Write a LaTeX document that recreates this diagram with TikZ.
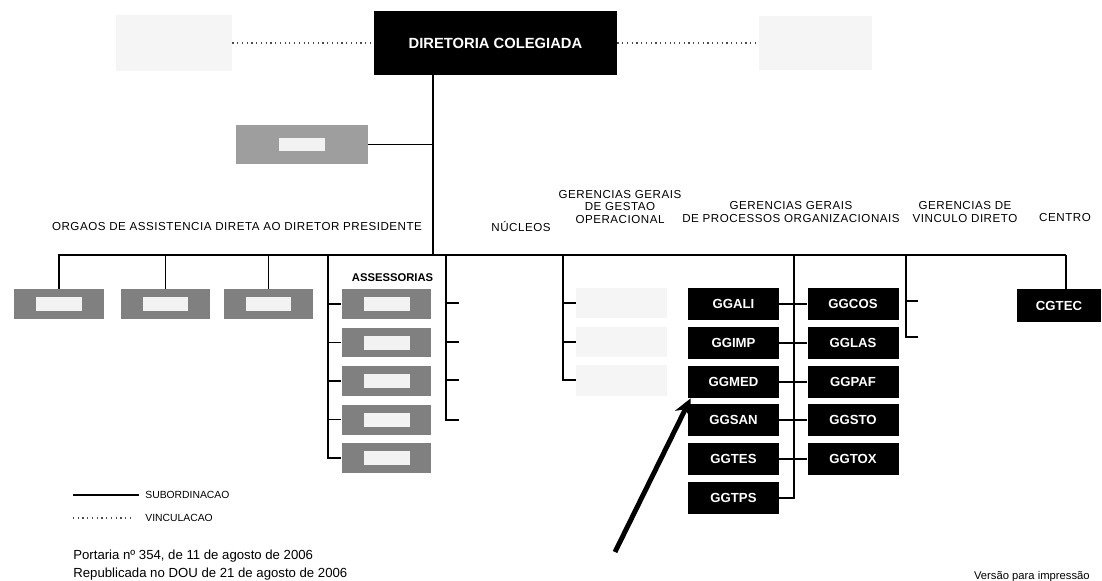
\documentclass[tikz,border=0pt]{standalone}
\usepackage{fontspec}
\setmainfont{Liberation Sans}
\newfontfamily\rotfont[LetterSpace=4.5]{Liberation Sans}
\usetikzlibrary{arrows.meta}

\begin{document}
\begin{tikzpicture}[x=0.02cm, y=-0.02cm,
    liga/.style={line width=0.8pt},
    vinc/.style={line width=0.7pt, dotted, gray!60!black},
    caixa/.style={fill=black, text=white, font=\bfseries\fontsize{7.5}{8}\selectfont,
      minimum width=1.82cm, minimum height=0.64cm, inner sep=0pt},
    cinza/.style={fill=black!50, minimum width=1.8cm, minimum height=0.6cm, inner sep=0pt,
      path picture={\fill[gray!10] ([xshift=-0.46cm,yshift=-0.14cm]path picture bounding box.center)
        rectangle ([xshift=0.46cm,yshift=0.14cm]path picture bounding box.center);}},
    palido/.style={fill=gray!8, inner sep=0pt},
    rotulo/.style={font=\rotfont\fontsize{6.6}{6.9}\selectfont, align=center, inner sep=0pt}]

      % Fundo
      \fill[white] (0,0) rectangle (1102,581);
      \useasboundingbox (0,0) rectangle (1102,581);

      % Diretoria
      \node[caixa, minimum width=4.86cm, minimum height=1.28cm,
        font=\bfseries\fontsize{8.4}{9}\selectfont] (dc) at (495.5,43) {DIRETORIA COLEGIADA};
      \node[palido, minimum width=2.32cm, minimum height=1.12cm] (conselho) at (174,43) {};
      \node[palido, minimum width=2.26cm, minimum height=1.08cm] (camaras) at (815.5,43) {};
      \draw[vinc] (conselho.east) -- (conselho.east -| dc.west);
      \draw[vinc] (dc.east |- camaras.west) -- (camaras.west);

      % Tronco
      \coordinate (tronco) at (433,255);
      \draw[liga] (dc.south -| tronco) -- (tronco);
      \node[cinza, fill=black!38, minimum width=2.64cm, minimum height=0.78cm] (gabinete) at (302,144.5) {};
      \draw[liga] (gabinete.east) -- (gabinete.east -| tronco);

      % Barra
      \coordinate (barE) at (58,255);
      \coordinate (barD) at (1066,255);
      \draw[liga] (barE) -- (barD);

      % Titulos
      \node[rotulo] (orgaos) at (237,227) {ORGAOS DE ASSISTENCIA DIRETA AO DIRETOR PRESIDENTE};
      \node[rotulo] (nucleos) at (521,227) {NÚCLEOS};
      \node[rotulo] (gggo) at (620,207) {GERENCIAS GERAIS\\DE GESTAO\\OPERACIONAL};
      \node[rotulo] (ggpo) at (791,212) {GERENCIAS GERAIS\\DE PROCESSOS ORGANIZACIONAIS};
      \node[rotulo] (gvd) at (965,212) {GERENCIAS DE\\VINCULO DIRETO};
      \node[rotulo] (centro) at (1065,218) {CENTRO};

      % Orgaos
      \node[cinza] (orgao1) at (59,304) {};
      \node[cinza] (orgao2) at (165.5,304) {};
      \node[cinza] (orgao3) at (268.5,304) {};
      \draw[liga] (orgao1.north |- barE) -- (orgao1.north);
      \draw[liga] (orgao2.north |- barE) -- (orgao2.north);
      \draw[liga] (orgao3.north |- barE) -- (orgao3.north);

      % Assessorias
      \node[font=\bfseries\fontsize{6.4}{7}\selectfont, inner sep=0pt] (assessorias) at (392.5,277.5) {ASSESSORIAS};
      \node[cinza] (asse1) at (386.5,304) {};
      \node[cinza] (asse2) at (386.5,342.5) {};
      \node[cinza] (asse3) at (386.5,381) {};
      \node[cinza] (asse4) at (386.5,419.5) {};
      \node[cinza] (asse5) at (386.5,458) {};
      \coordinate (asseE) at (328,255);
      \draw[liga] (asseE) |- (asse5.west);
      \draw[liga] (asse1.west -| asseE) -- (asse1.west);
      \draw[liga] (asse2.west -| asseE) -- (asse2.west);
      \draw[liga] (asse3.west -| asseE) -- (asse3.west);
      \draw[liga] (asse4.west -| asseE) -- (asse4.west);

      % Nucleos
      \coordinate (nucE) at (446,255);
      \coordinate (nuc1) at (459,303);
      \coordinate (nuc2) at (459,342);
      \coordinate (nuc3) at (459,380);
      \coordinate (nuc4) at (459,420);
      \draw[liga] (nucE) |- (nuc4);
      \draw[liga] (nuc1 -| nucE) -- (nuc1);
      \draw[liga] (nuc2 -| nucE) -- (nuc2);
      \draw[liga] (nuc3 -| nucE) -- (nuc3);

      % Gestao operacional
      \coordinate (gggoE) at (563,255);
      \node[palido, minimum width=1.82cm, minimum height=0.62cm] (ggo1) at (621.5,303) {};
      \node[palido, minimum width=1.82cm, minimum height=0.62cm] (ggo2) at (621.5,342) {};
      \node[palido, minimum width=1.82cm, minimum height=0.62cm] (ggo3) at (621.5,380) {};
      \draw[liga] (gggoE) |- (ggo3.west);
      \draw[liga] (ggo1.west -| gggoE) -- (ggo1.west);
      \draw[liga] (ggo2.west -| gggoE) -- (ggo2.west);

      % Processos organizacionais
      \coordinate (ggpoE) at (794,255);
      \node[caixa] (ggali) at (733.5,304) {GGALI};
      \node[caixa] (ggimp) at (733.5,343) {GGIMP};
      \node[caixa] (ggmed) at (733.5,382) {GGMED};
      \node[caixa] (ggsan) at (733.5,420) {GGSAN};
      \node[caixa] (ggtes) at (733.5,459) {GGTES};
      \node[caixa] (ggtps) at (733.5,498) {GGTPS};
      \node[caixa] (ggcos) at (853,304) {GGCOS};
      \node[caixa] (gglas) at (853,343) {GGLAS};
      \node[caixa] (ggpaf) at (853,382) {GGPAF};
      \node[caixa] (ggsto) at (853,420) {GGSTO};
      \node[caixa] (ggtox) at (853,459) {GGTOX};
      \draw[liga] (ggpoE) |- (ggtps.east);
      \draw[liga] (ggali) -- (ggcos);
      \draw[liga] (ggimp) -- (gglas);
      \draw[liga] (ggmed) -- (ggpaf);
      \draw[liga] (ggsan) -- (ggsto);
      \draw[liga] (ggtes) -- (ggtox);

      % Vinculo direto
      \coordinate (gvdE) at (906,255);
      \coordinate (gvd1) at (918,301);
      \coordinate (gvd2) at (918,337);
      \draw[liga] (gvdE) |- (gvd2);
      \draw[liga] (gvd1 -| gvdE) -- (gvd1);

      % Centro
      \node[caixa, minimum width=1.68cm, minimum height=0.66cm] (cgtec) at (1059,305.5) {CGTEC};
      \draw[liga] (barD) -- (barD |- cgtec.north);

      % Seta
      \coordinate (pe) at (615,552);
      \draw[line width=2.8pt, -{Stealth[length=0.36cm,width=0.34cm]}] (pe) -- ([xshift=0.06cm]ggmed.south west);

      % Legenda
      \node[anchor=west, inner sep=0pt, font=\fontsize{5.9}{7}\selectfont] (legsub) at (145,495) {SUBORDINACAO};
      \node[anchor=west, inner sep=0pt, font=\fontsize{5.9}{7}\selectfont] (legvin) at (145,518) {VINCULACAO};
      \coordinate (lsub) at (73,495);
      \coordinate (lvin) at (73,518);
      \draw[liga] (lsub) -- ([xshift=-0.12cm]legsub.west);
      \draw[vinc] (lvin) -- ([xshift=-0.22cm]legvin.west);

      % Rodape
      \node[anchor=west, inner sep=0pt, font=\fontsize{7.5}{9}\selectfont] (portaria) at (73,556) {Portaria nº 354, de 11 de agosto de 2006};
      \node[anchor=west, inner sep=0pt, font=\fontsize{7.5}{9}\selectfont] (republicada) at (73,574) {Republicada no DOU de 21 de agosto de 2006};
      \node[anchor=east, inner sep=0pt, font=\fontsize{6.4}{7}\selectfont] (versao) at (1090,577) {Versão para impressão};
    \end{tikzpicture}
\end{document}
